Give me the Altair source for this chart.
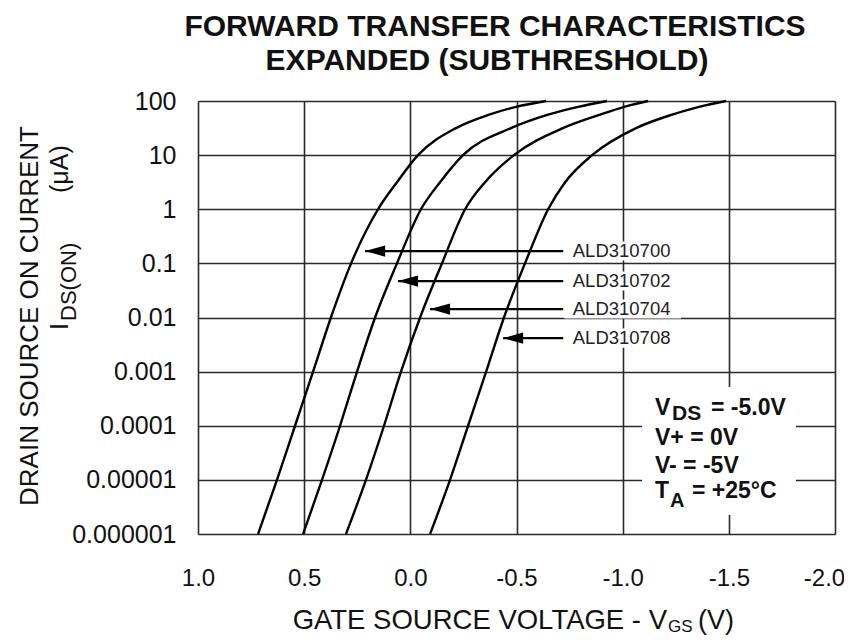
import altair as alt
import pandas as pd

# ---------------- data ----------------
title_lines = ["FORWARD TRANSFER CHARACTERISTICS", "EXPANDED (SUBTHRESHOLD)"]
device_names = ["ALD310700", "ALD310702", "ALD310704", "ALD310708"]

# drain current levels (uA) at which each curve was read
ids_levels = [1e-6, 1e-5, 1e-4, 1e-3, 1e-2, 0.1, 1, 3.16, 10, 31.6, 56, 78, 100]

# gate-source voltage (V) of each curve at those current levels
vgs_700 = [0.717, 0.628, 0.543, 0.458, 0.374, 0.279, 0.152, 0.063, -0.036, -0.215, -0.371, -0.498, -0.639]
vgs_702 = [0.505, 0.416, 0.331, 0.251, 0.166, 0.063, -0.050, -0.140, -0.248, -0.474, -0.649, -0.790, -0.927]
vgs_704 = [0.303, 0.209, 0.124, 0.044, -0.046, -0.149, -0.258, -0.352, -0.488, -0.719, -0.894, -1.007, -1.120]
vgs_708 = [-0.093, -0.187, -0.272, -0.357, -0.441, -0.540, -0.649, -0.729, -0.856, -1.063, -1.233, -1.360, -1.487]

x_ticks = [1.0, 0.5, 0.0, -0.5, -1.0, -1.5, -2.0]
y_ticks = [0.000001, 0.00001, 0.0001, 0.001, 0.01, 0.1, 1, 10, 100]

# pointer arrows: current level of each arrow, voltage at its tip, voltage where label begins
arrow_ids = [0.169, 0.0471, 0.0143, 0.00416]
arrow_tip_vgs = [0.213, 0.058, -0.093, -0.437]
arrow_tail_vgs = -0.72
label_vgs = -0.765
label_box_vgs = [-0.725, -1.275]

FONT = "Liberation Sans"
INK = "#111111"

# ---------------- tables ----------------
rows = []
for name, vs in zip(device_names, [vgs_700, vgs_702, vgs_704, vgs_708]):
    for k, (v, c) in enumerate(zip(vs, ids_levels)):
        rows.append({"device": name, "v": v, "i": c, "k": k})
curves_df = pd.DataFrame(rows)

arrows_df = pd.DataFrame({
    "device": device_names,
    "i": arrow_ids,
    "v": arrow_tip_vgs,
    "v2": [arrow_tail_vgs] * 4,
    "vl": [label_vgs] * 4,
    "b1": [label_box_vgs[0]] * 4,
    "b2": [label_box_vgs[1]] * 4,
    "ilo": [c / 1.5 for c in arrow_ids],
    "ihi": [c * 1.5 for c in arrow_ids],
})

xscale = alt.Scale(domain=[1.0, -2.0], nice=False, zero=False)
yscale = alt.Scale(type="log", domain=[1e-6, 100], nice=False)

xaxis = alt.Axis(
    values=x_ticks, title=None, ticks=False, tickSize=0, domain=False,
    grid=True, gridColor="#2a2a2a", gridWidth=1.6, gridOpacity=1,
    labelExpr="(datum.value < 0 ? '-' : '') + format(abs(datum.value), '.1f')",
    labelFont=FONT, labelFontSize=24, labelColor=INK, labelPadding=32,
    labelFlush=False, labelOverlap=False,
    labelOffset={"condition": {"test": "datum.value < -1.9", "value": -11}, "value": 0},
)
yaxis = alt.Axis(
    values=y_ticks, title=None, ticks=False, tickSize=0, domain=False,
    grid=True, gridColor="#2a2a2a", gridWidth=1.6, gridOpacity=1,
    labelExpr="format(datum.value, datum.value >= 1 ? 'd' : '.' + round(-log(datum.value)/LN10) + 'f')",
    labelFont=FONT, labelFontSize=25, labelColor=INK, labelPadding=22,
    labelOverlap=False, labelBaseline="middle",
)

curves = alt.Chart(curves_df).mark_line(
    color="black", strokeWidth=2.4, interpolate="monotone"
).encode(
    x=alt.X("v:Q", scale=xscale, axis=xaxis),
    y=alt.Y("i:Q", scale=yscale, axis=yaxis),
    detail="device:N",
    order="k:Q",
)

label_boxes = alt.Chart(arrows_df).mark_rect(color="white").encode(
    x=alt.X("b1:Q", scale=xscale), x2="b2:Q",
    y=alt.Y("ilo:Q", scale=yscale), y2="ihi:Q",
)

arrow_lines = alt.Chart(arrows_df).mark_rule(color="black", strokeWidth=2.2).encode(
    x=alt.X("v:Q", scale=xscale), x2="v2:Q",
    y=alt.Y("i:Q", scale=yscale),
)

arrow_heads = alt.Chart(arrows_df).mark_point(
    shape="M0,0L1,-0.28L1,0.28Z", filled=True, color="black", size=1600, opacity=1
).encode(
    x=alt.X("v:Q", scale=xscale),
    y=alt.Y("i:Q", scale=yscale),
)

labels = alt.Chart(arrows_df).mark_text(
    align="left", baseline="middle", font=FONT, fontSize=18.5, color="#222222"
).encode(
    x=alt.X("vl:Q", scale=xscale),
    y=alt.Y("i:Q", scale=yscale),
    text="device:N",
)

# conditions box (white panel that interrupts the grid)
cond_box = alt.Chart(pd.DataFrame({"a": [0]})).mark_rect(color="white").encode(
    x=alt.value(444), x2=alt.value(598), y=alt.value(286), y2=alt.value(414)
)


def txt(s, x, y, size, bold=False, align="left", angle=0, baseline="alphabetic"):
    kw = dict(align=align, baseline=baseline, font=FONT, fontSize=size, color=INK,
              fontWeight="bold" if bold else "normal")
    if angle:
        kw["angle"] = angle
    return alt.Chart(pd.DataFrame({"a": [0]})).mark_text(**kw).encode(
        x=alt.value(x), y=alt.value(y), text=alt.value(s)
    )


texts = [
    # title
    txt(title_lines[0], 297, -65, 30, bold=True, align="center"),
    txt(title_lines[1], 289, -31, 30, bold=True, align="center"),
    # conditions
    txt("V", 457, 314, 23, bold=True),
    txt("DS", 474, 319, 21, bold=True),
    txt("= -5.0V", 513, 314, 23, bold=True),
    txt("V+ = 0V", 457, 344, 23, bold=True),
    txt("V- = -5V", 457, 372, 23, bold=True),
    txt("T", 457, 397, 23, bold=True),
    txt("A", 472, 406, 20, bold=True),
    txt("= +25°C", 494, 397, 23, bold=True),
    # x axis title
    txt("GATE SOURCE VOLTAGE - V", 469, 528, 27.5, align="right"),
    txt("GS", 470, 531, 17),
    txt("(V)", 500, 528, 27),
    # y axis title
    txt("DRAIN SOURCE ON CURRENT", -160, 215, 26, align="center", angle=270),
    txt("I", -130, 229, 25, angle=270),
    txt("DS(ON)", -122, 220, 22, angle=270),
    txt("(μA)", -130, 92, 25, angle=270),
]

chart = alt.layer(
    curves, label_boxes, cond_box, arrow_lines, arrow_heads, labels, *texts
).properties(
    width=637,
    height=433,
    padding={"left": 190, "top": 93, "right": 9, "bottom": 102},
    autosize=alt.AutoSizeParams(type="none"),
).configure_view(
    stroke="black", strokeWidth=3
).configure(background="white")

chart.save("out.html", embed_options={"renderer": "svg", "actions": False})
